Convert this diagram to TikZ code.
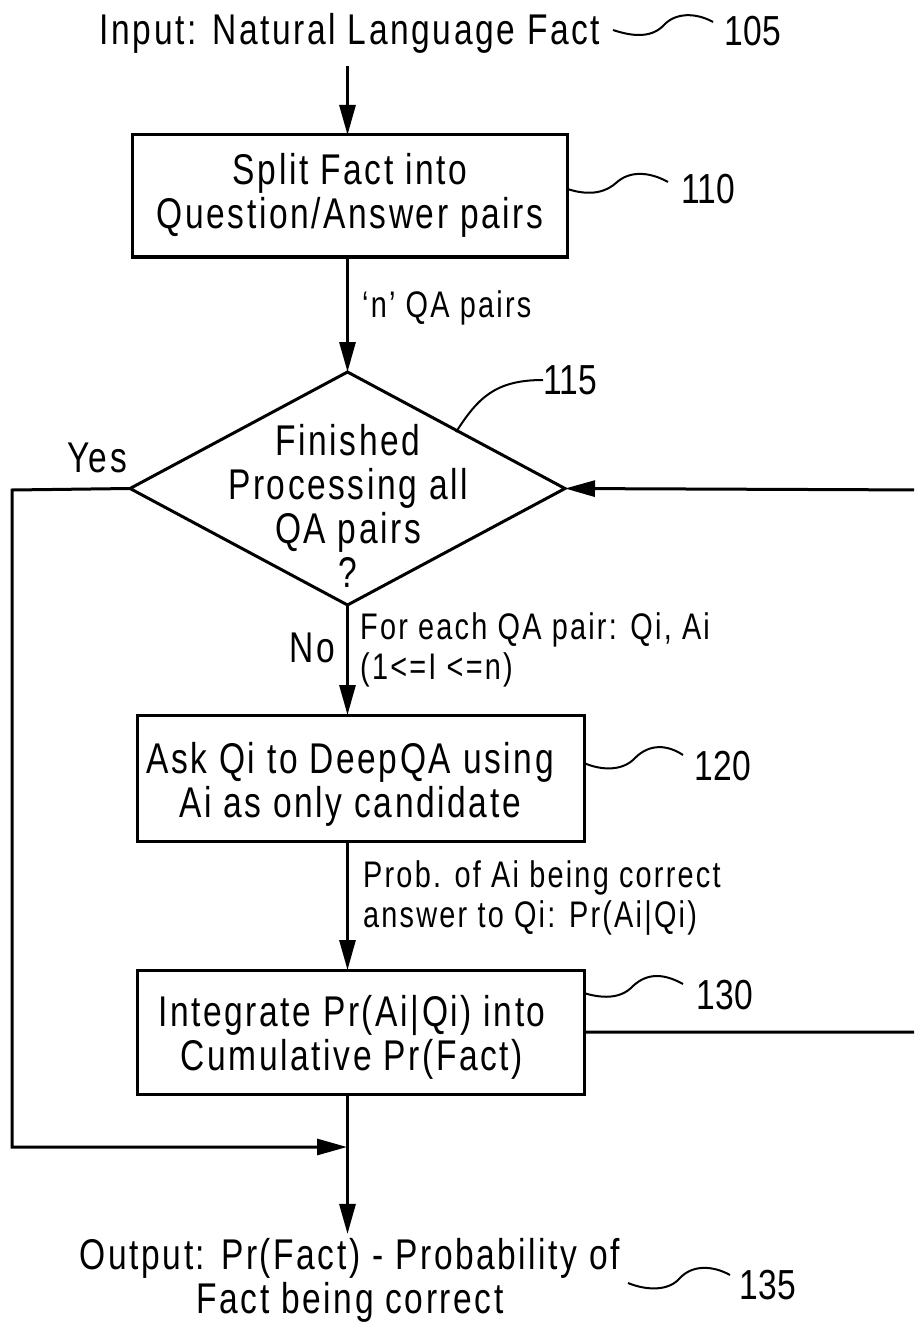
\documentclass[tikz,border=0pt]{standalone}
\usepackage{fontspec}
\setmainfont{Liberation Sans}[FakeStretch=0.78, LetterSpace=6]
\newfontfamily\numfont{Liberation Sans}[FakeStretch=0.8]
\usetikzlibrary{arrows.meta,shapes.geometric}
\newcommand{\mainsz}{\fontsize{43}{44}\selectfont}
\newcommand{\smallsz}{\fontsize{37}{40}\selectfont}
\newcommand{\numsz}{\numfont\fontsize{42}{44}\selectfont}
\tikzset{
  box/.style={draw, line width=3pt, inner sep=0pt, outer sep=0pt},
  dia/.style={draw, diamond, line width=3pt, inner sep=0pt, outer sep=0pt,
    minimum width=435pt, minimum height=233pt},
  txt/.style={font=\mainsz, align=center, inner sep=0pt},
  lbl/.style={font=\smallsz, align=left, anchor=west, inner sep=0pt},
  num/.style={font=\numsz, inner sep=0pt},
  conn/.style={line width=3pt, -{Triangle[length=30pt,width=16pt]}},
  lead/.style={line width=2pt},
}
\begin{document}
\begin{tikzpicture}[x=1pt,y=-1pt]
\clip (0,0) rectangle (914,1324);
% nodes
\node[txt, outer ysep=13pt] (in) at (350,33) {Input: Natural Language Fact};
\node[box, minimum width=435pt, minimum height=122pt] (b110) at (350,196) {};
\node[txt] (t110) at (350,195) {Split Fact into\\Question/Answer pairs};
\node[dia] (d) at (347.5,488.5) {};
\node[txt] (t115) at (348,506) {Finished\\Processing all\\QA pairs\\?};
\node[box, minimum width=447pt, minimum height=126pt] (b120) at (360.5,778) {};
\node[txt] (t120) at (350,784) {Ask Qi to DeepQA using\\Ai as only candidate};
\node[box, minimum width=447pt, minimum height=124pt] (b130) at (360.5,1032) {};
\node[txt] (t130) at (352,1037) {Integrate Pr(Ai|Qi) into\\Cumulative Pr(Fact)};
\node[txt, outer ysep=4pt] (out) at (350,1280) {Output: Pr(Fact) - Probability of\\Fact being correct};
\coordinate (j) at (347,1147);
\coordinate (lc) at (12,490);
\coordinate (rc) at (930,490);
% edge labels
\node[txt] (yes) at (97,458) {Yes};
\node[txt] (no) at (312,648) {No};
\node[lbl] (lqa) at (362,308) {‘n’ QA pairs};
\node[lbl] (lfor) at (360,650) {For each QA pair: Qi, Ai\\(1<=I <=n)};
\node[lbl] (lprob) at (363,898) {Prob. of Ai being correct\\answer to Qi: Pr(Ai|Qi)};
% reference numerals
\node[num] (n105) at (753,31) {105};
\node[num] (n110) at (708,189) {110};
\node[num, anchor=west] (n115) at (543,380) {115};
\node[num] (n120) at (723,766) {120};
\node[num] (n130) at (725,995) {130};
\node[num] (n135) at (768,1285) {135};
% connectors
\draw[conn] (d.north |- in.south) -- (d.north |- b110.north);
\draw[conn] (d.north |- b110.south) -- (d.north);
\draw[conn] (d.south) -- (d.south |- b120.north);
\draw[conn] (d.south |- b120.south) -- (d.south |- b130.north);
\draw[conn] (d.south |- b130.south) -- (d.south |- out.north);
\draw[conn] (d.west) -- (lc) |- (j);
\draw[conn] (b130.east) -- (rc |- b130.east) -- (rc) -- (d.east);
% leader lines
\draw[lead] (613,30) .. controls (628,35) and (650,40) .. (664,25) .. controls (675,13) and (695,12) .. (713,22);
\draw[lead] (b110.east |- 0,189) .. controls (580,193) and (600,197) .. (616,183) .. controls (630,170) and (650,172) .. (668,182);
\draw[lead] (456,432) .. controls (478,398) and (495,380) .. (n115.west);
\draw[lead] (b120.east |- 0,763) .. controls (600,770) and (622,772) .. (635,758) .. controls (650,743) and (668,745) .. (683,755);
\draw[lead] (b130.east |- 0,993) .. controls (600,998) and (620,1000) .. (633,986) .. controls (648,972) and (665,974) .. (683,984);
\draw[lead] (628,1283) .. controls (645,1290) and (668,1292) .. (680,1278) .. controls (692,1265) and (712,1265) .. (730,1275);
\end{tikzpicture}
\end{document}
